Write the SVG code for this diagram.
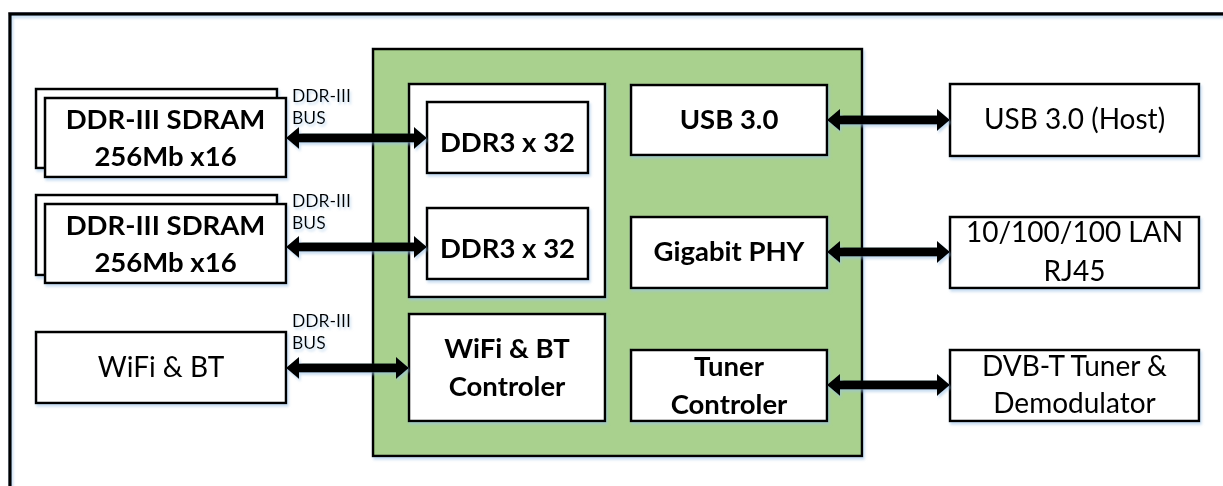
<svg xmlns="http://www.w3.org/2000/svg" width="1223" height="486" viewBox="0 0 1223 486">
<defs>
<filter id="sh" x="-10%" y="-10%" width="130%" height="140%">
<feDropShadow dx="1.5" dy="2.5" stdDeviation="0.8" flood-color="#9dc3e6" flood-opacity="0.55"/>
</filter>
<style>
.box{fill:#fff;stroke:#000;stroke-width:2.5}
.green{fill:#a9d18e;stroke:#000;stroke-width:2.5}
.b{font-family:Lato,"Open Sans","Liberation Sans",sans-serif;font-weight:bold;font-size:27.5px;fill:#000;text-anchor:middle}
.r{font-family:Lato,"Open Sans","Liberation Sans",sans-serif;font-size:28px;fill:#000;text-anchor:middle}
.s{font-family:Lato,"Open Sans","Liberation Sans",sans-serif;font-size:17.5px;fill:#000}
.arr{fill:#000}
</style>
</defs>
<rect width="1223" height="486" fill="#fff"/>
<g id="frame" filter="url(#sh)">
<rect x="10" y="14" width="1240" height="500" fill="none" stroke="#000" stroke-width="3.5"/>
</g>
<g id="soc" filter="url(#sh)">
<rect class="green" x="373" y="49" width="489" height="407"/>
</g>
<g id="ddr-container" filter="url(#sh)">
<rect class="box" x="409" y="84" width="196" height="213"/>
</g>
<g id="ddr3a" filter="url(#sh)">
<rect class="box" x="427" y="102" width="161" height="71"/>
<text class="b" x="507.5" y="152">DDR3 x 32</text>
</g>
<g id="ddr3b" filter="url(#sh)">
<rect class="box" x="427" y="208" width="161" height="71"/>
<text class="b" x="507.5" y="258">DDR3 x 32</text>
</g>
<g id="usb" filter="url(#sh)">
<rect class="box" x="631" y="85" width="196" height="70"/>
<text class="b" x="729" y="129">USB 3.0</text>
</g>
<g id="phy" filter="url(#sh)">
<rect class="box" x="631" y="217" width="196" height="71"/>
<text class="b" x="729" y="261">Gigabit PHY</text>
</g>
<g id="wifictl" filter="url(#sh)">
<rect class="box" x="409" y="314" width="196" height="107"/>
<text class="b" x="507" y="358">WiFi &amp; BT</text>
<text class="b" x="507" y="396">Controler</text>
</g>
<g id="tunerctl" filter="url(#sh)">
<rect class="box" x="631" y="350" width="196" height="71"/>
<text class="b" x="729" y="376">Tuner</text>
<text class="b" x="729" y="414">Controler</text>
</g>
<g id="sdram1" filter="url(#sh)">
<rect class="box" x="36" y="89" width="241" height="79"/>
<rect class="box" x="45" y="98" width="241" height="79"/>
<text class="b" x="165.5" y="129">DDR-III SDRAM</text>
<text class="b" x="165.5" y="166">256Mb x16</text>
</g>
<g id="sdram2" filter="url(#sh)">
<rect class="box" x="36" y="195" width="241" height="80"/>
<rect class="box" x="45" y="204" width="241" height="79"/>
<text class="b" x="165.5" y="235">DDR-III SDRAM</text>
<text class="b" x="165.5" y="272">256Mb x16</text>
</g>
<g id="wifi" filter="url(#sh)">
<rect class="box" x="36" y="332" width="250" height="71"/>
<text class="r" x="161" y="377">WiFi &amp; BT</text>
</g>
<g id="usbhost" filter="url(#sh)">
<rect class="box" x="950" y="84" width="249" height="72"/>
<text class="r" x="1074.5" y="129">USB 3.0 (Host)</text>
</g>
<g id="lan" filter="url(#sh)">
<rect class="box" x="950" y="217" width="249" height="71"/>
<text class="r" x="1074.5" y="242">10/100/100 LAN</text>
<text class="r" x="1074.5" y="281">RJ45</text>
</g>
<g id="dvb" filter="url(#sh)">
<rect class="box" x="950" y="350" width="249" height="71"/>
<text class="r" x="1074.5" y="376">DVB-T Tuner &amp;</text>
<text class="r" x="1074.5" y="413">Demodulator</text>
</g>
<g id="connectors" filter="url(#sh)">
<path class="arr" d="M286,138 L299,127 L299,133.5 L414,133.5 L414,127 L427,138 L414,149 L414,142.5 L299,142.5 L299,149 Z"/>
<path class="arr" d="M286,247 L299,236 L299,242.5 L414,242.5 L414,236 L427,247 L414,258 L414,251.5 L299,251.5 L299,258 Z"/>
<path class="arr" d="M286,368 L299,357 L299,363.5 L396,363.5 L396,357 L409,368 L396,379 L396,372.5 L299,372.5 L299,379 Z"/>
<path class="arr" d="M827,120 L840,109 L840,115.5 L937,115.5 L937,109 L950,120 L937,131 L937,124.5 L840,124.5 L840,131 Z"/>
<path class="arr" d="M827,252 L840,241 L840,247.5 L937,247.5 L937,241 L950,252 L937,263 L937,256.5 L840,256.5 L840,263 Z"/>
<path class="arr" d="M827,385 L840,374 L840,380.5 L937,380.5 L937,374 L950,385 L937,396 L937,389.5 L840,389.5 L840,396 Z"/>
<text class="s" x="292" y="102">DDR-III</text>
<text class="s" x="292" y="124">BUS</text>
<text class="s" x="292" y="207">DDR-III</text>
<text class="s" x="292" y="229">BUS</text>
<text class="s" x="292" y="327">DDR-III</text>
<text class="s" x="292" y="349">BUS</text>
</g>
</svg>
